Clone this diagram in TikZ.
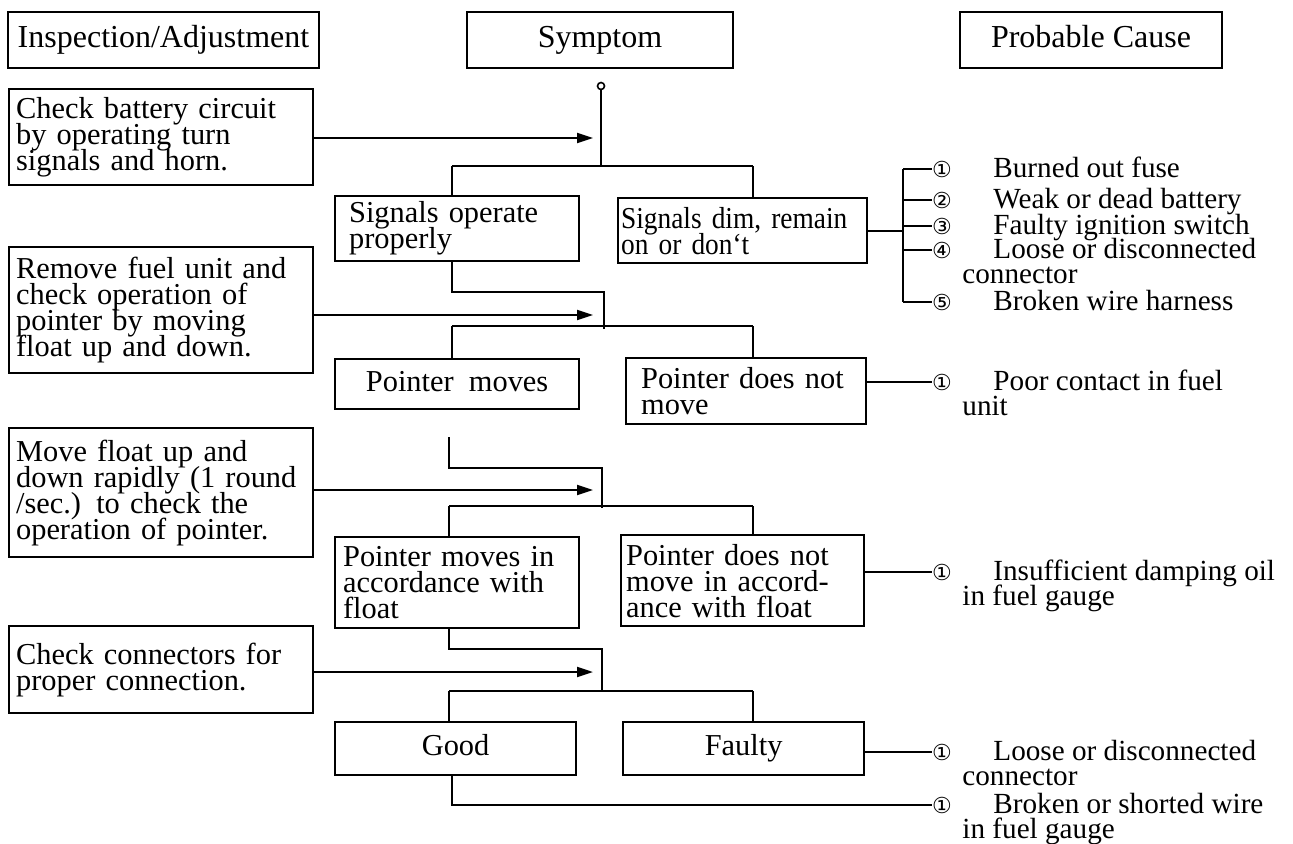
\documentclass[tikz,border=0pt]{standalone}
\usepackage{fontspec}
\setmainfont{Liberation Serif}
\newfontfamily\numfont{DejaVu Sans}
\newfontfamily\narrowfont{Liberation Serif}[FakeStretch=0.9]
\usepackage{tikz}
\usetikzlibrary{arrows.meta,positioning,calc}
\newcommand{\boxsize}{\fontsize{15.2}{13}\selectfont\lineskiplimit=-20pt\relax}
\newcommand{\dimsize}{\narrowfont\fontsize{15.2}{13}\selectfont\lineskiplimit=-20pt\relax}
\newcommand{\causesize}{\fontsize{14.6}{12.5}\selectfont}
% wrapped cause text: first line after the number, second line flush left
\newcommand{\twoline}[2]{\vtop{\baselineskip=12.5pt\lineskiplimit=-20pt
  \hbox{\hspace*{15.5pt}#1}\hbox{#2}}}
\tikzset{
  head/.style={draw,line width=1.1pt,inner sep=0pt,minimum height=28pt,
    text height=11pt,text depth=3.5pt,font=\fontsize{16}{16}\selectfont},
  insp/.style={draw,line width=1.1pt,anchor=north west,align=left,
    inner xsep=3.5pt,inner ysep=1pt,text width=145pt,font=\boxsize},
  symp/.style={draw,line width=1.1pt,anchor=north west,align=left,
    inner ysep=1pt,font=\boxsize},
  sympc/.style={symp,align=center,inner xsep=0pt,text height=10.5pt,text depth=3.5pt},
  wire/.style={line width=1pt},
  feed/.style={wire,-{Triangle[length=8pt,width=5pt]}},
  num/.style={inner sep=0pt,font=\numfont\fontsize{11}{11}\selectfont},
  cause/.style={inner sep=0pt,anchor=base west,font=\causesize},
}

\begin{document}
\begin{tikzpicture}[x=0.5pt,y=-0.5pt]
  \useasboundingbox (0,0) rectangle (1293,843);
  % column heads
  \node[head,minimum width=155.5pt] (hins) at (163.5,40) {Inspection/Adjustment};
  \node[head,minimum width=133pt]   (hsym) at (600,40)   {Symptom};
  \node[head,minimum width=131pt]   (hcau) at (1091,40)  {Probable Cause};

  % inspection / adjustment
  \node[insp,minimum height=48pt]   (chk1) at (8,88)  {Check battery circuit\\by operating turn\\signals and horn.};
  \node[insp,minimum height=63pt]   (chk2) at (8,246) {Remove fuel unit and\\check operation of\\pointer by moving\\float up and down.};
  \node[insp,minimum height=64.5pt] (chk3) at (8,427) {Move float up and\\down rapidly (1 round\\/sec.) to check the\\operation of pointer.};
  \node[insp,minimum height=43.5pt] (chk4) at (8,625) {Check connectors for\\proper connection.};

  % symptoms
  \node[symp,inner xsep=7pt,text width=108pt,minimum height=32.5pt] (ok1) at (334,195) {Signals operate\\properly};
  \node[symp,inner xsep=1.5pt,text width=121.5pt,minimum height=32.5pt,font=\dimsize] (bad1) at (617,197) {Signals dim, remain\\on or don‘t};
  \node[sympc,minimum width=122pt,minimum height=25pt] (ok2) at (334,358) {Pointer\ \ moves};
  \node[symp,inner xsep=7.5pt,text width=105pt,minimum height=33pt] (bad2) at (625,357) {Pointer does not\\move};
  \node[symp,inner xsep=4pt,text width=114pt,minimum height=45.5pt] (ok3) at (334,536) {Pointer moves in\\accordance with\\float};
  \node[symp,inner xsep=2.5pt,text width=116.5pt,minimum height=45.5pt] (bad3) at (620,534) {Pointer does not\\move in accord-\\ance with float};
  \node[sympc,minimum width=120.5pt,minimum height=26.5pt] (ok4) at (334,721) {Good};
  \node[sympc,minimum width=120.5pt,minimum height=26.5pt] (bad4) at (622,721) {Faulty};

  % stage 1
  \node[circle,draw,line width=0.8pt,minimum size=3.5pt,inner sep=0pt] (root) at (601,86) {};
  \coordinate (j1) at (601,166);
  \coordinate (l1) at (452,166);
  \coordinate (r1) at (753,166);
  \coordinate (a1) at (593,138);
  \draw[wire] (root) -- (j1);
  \draw[wire] (l1) -- (r1);
  \draw[wire] (l1) -- (l1 |- ok1.north);
  \draw[wire] (r1) -- (r1 |- bad1.north);
  \draw[feed] (chk1.east |- a1) -- (a1);

  % stage 2
  \coordinate (e2) at (604,292);
  \coordinate (t2) at (604,329);
  \coordinate (l2) at (452,326);
  \coordinate (r2) at (753,326);
  \coordinate (a2) at (593,315);
  \draw[wire] (ok1.south -| l2) |- (e2) -- (t2);
  \draw[wire] (l2) -- (r2);
  \draw[wire] (l2) -- (l2 |- ok2.north);
  \draw[wire] (r2) -- (r2 |- bad2.north);
  \draw[feed] (chk2.east |- a2) -- (a2);

  % stage 3
  \coordinate (f3) at (449,437);
  \coordinate (e3) at (602,468);
  \coordinate (t3) at (602,508);
  \coordinate (l3) at (449,506);
  \coordinate (r3) at (753,506);
  \coordinate (a3) at (593,490);
  \draw[wire] (f3) |- (e3) -- (t3);
  \draw[wire] (l3) -- (r3);
  \draw[wire] (l3) -- (l3 |- ok3.north);
  \draw[wire] (r3) -- (r3 |- bad3.north);
  \draw[feed] (chk3.east |- a3) -- (a3);

  % stage 4
  \coordinate (e4) at (602,649);
  \coordinate (t4) at (602,692);
  \coordinate (l4) at (449,691);
  \coordinate (r4) at (753,691);
  \coordinate (a4) at (593,672);
  \coordinate (g5) at (452,805);
  \draw[wire] (ok3.south -| l4) |- (e4) -- (t4);
  \draw[wire] (l4) -- (r4);
  \draw[wire] (l4) -- (l4 |- ok4.north);
  \draw[wire] (r4) -- (r4 |- bad4.north);
  \draw[feed] (chk4.east |- a4) -- (a4);

  % probable causes
  \coordinate (tx) at (962,0);
  \coordinate (br1) at (903,169);
  \coordinate (br5) at (903,302);
  \node[num] (c1) at (942,169) {①};
  \node[num] (c2) at (942,200) {②};
  \node[num] (c3) at (942,226) {③};
  \node[num] (c4) at (942,250) {④};
  \node[num] (c5) at (942,302) {⑤};
  \draw[wire] (br1) -- (br5);
  \draw[wire] (bad1.east) -- (bad1.east -| br1);
  \foreach \c in {c1,c2,c3,c4,c5} \draw[wire] (\c.west -| br1) -- (\c.west);
  \node[cause] (w1) at (c1.base -| tx) {\hspace*{15.5pt}Burned out fuse};
  \node[cause] (w2) at (c2.base -| tx) {\hspace*{15.5pt}Weak or dead battery};
  \node[cause] (w3) at (c3.base -| tx) {\hspace*{15.5pt}Faulty ignition switch};
  \node[cause] (w4) at (c4.base -| tx) {\twoline{Loose or disconnected}{connector}};
  \node[cause] (w5) at (c5.base -| tx) {\hspace*{15.5pt}Broken wire harness};

  \node[num] (d1) at (942,382) {①};
  \node[num] (d2) at (942,572) {①};
  \node[num] (d3) at (942,752) {①};
  \node[num] (d4) at (942,805) {①};
  \draw[wire] (bad2.east |- d1) -- (d1.west);
  \draw[wire] (bad3.east |- d2) -- (d2.west);
  \draw[wire] (bad4.east |- d3) -- (d3.west);
  \draw[wire] (ok4.south -| g5) |- (d4.west);
  \node[cause] (v1) at (d1.base -| tx) {\twoline{Poor contact in fuel}{unit}};
  \node[cause] (v2) at (d2.base -| tx) {\twoline{Insufficient damping oil}{in fuel gauge}};
  \node[cause] (v3) at (d3.base -| tx) {\twoline{Loose or disconnected}{connector}};
  \node[cause] (v4) at (d4.base -| tx) {\twoline{Broken or shorted wire}{in fuel gauge}};
\end{tikzpicture}
\end{document}
